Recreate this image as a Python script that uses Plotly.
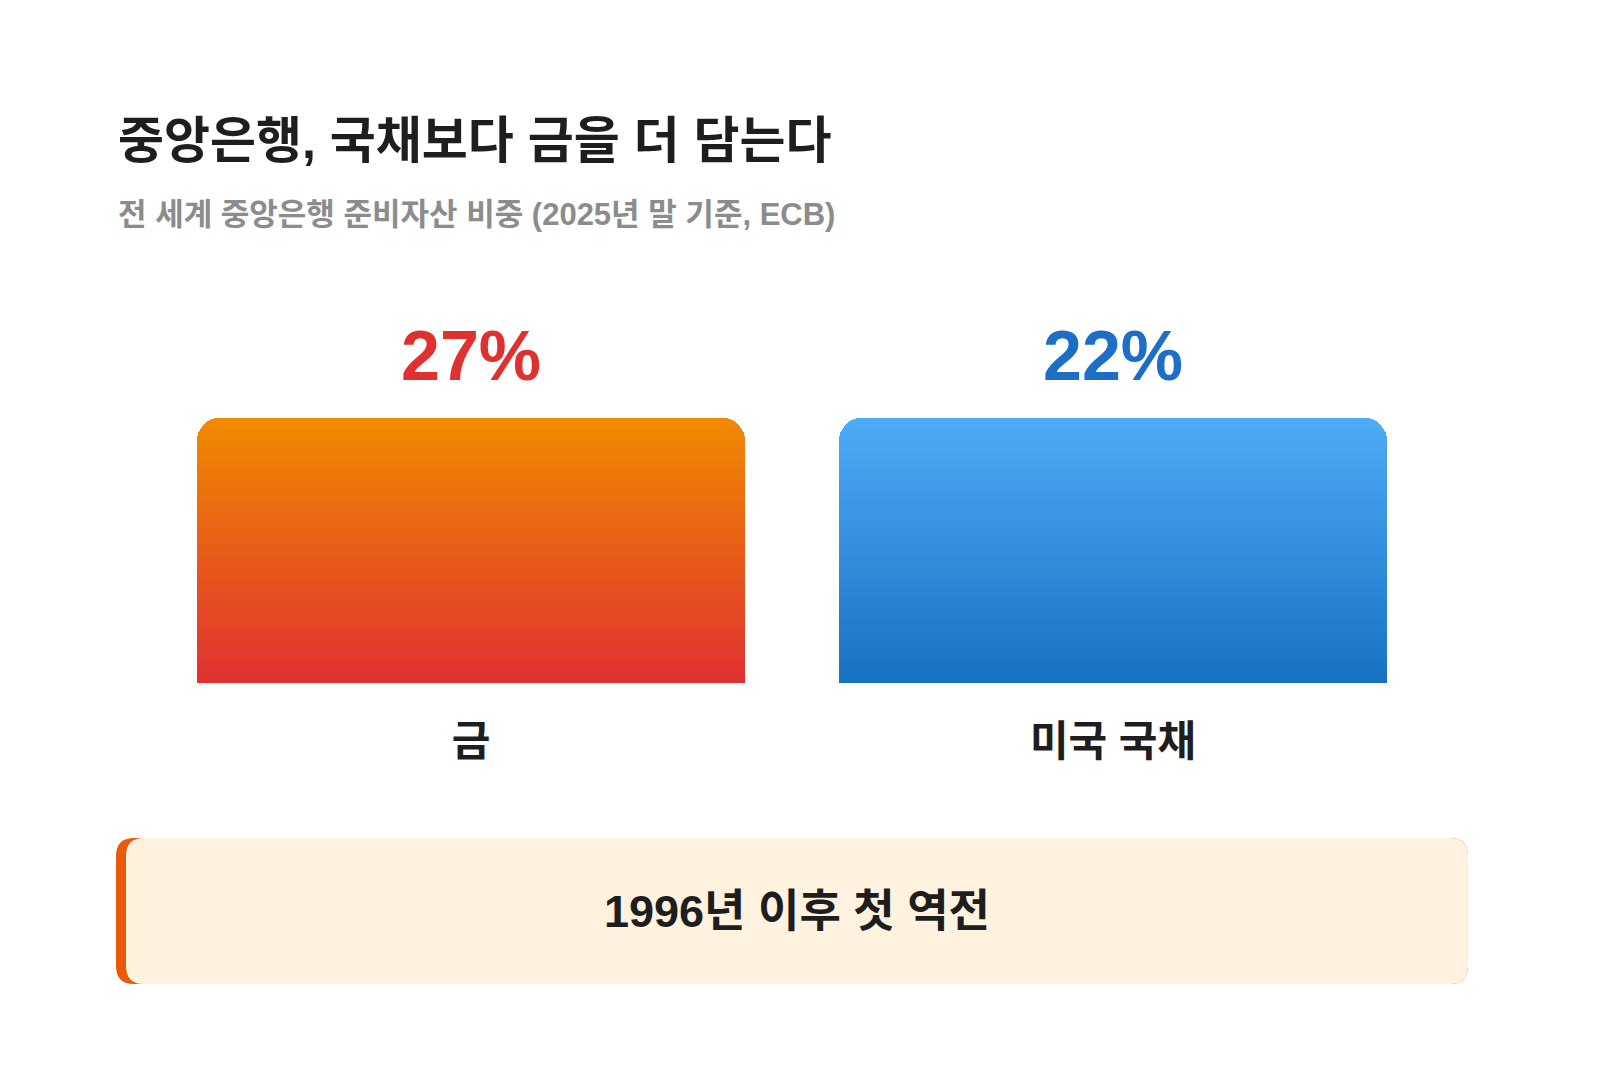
import plotly.graph_objects as go

categories = ["금", "미국 국채"]
shares = [27, 22]
label_colors = ["#e03131", "#1c6fc4"]
grad_top = ["#f08a00", "#4dabf7"]
grad_bot = ["#e03131", "#1971c2"]
title = "중앙은행, 국채보다 금을 더 담는다"
subtitle = "전 세계 중앙은행 준비자산 비중 (2025년 말 기준, ECB)"
callout = "1996년 이후 첫 역전"

W, H = 1600, 1080
FONT = "Liberation Sans, Noto Sans CJK KR, sans-serif"
N = 60

def hx(c):
    return [int(c[i:i+2], 16) for i in (1, 3, 5)]

def mix(a, b, t):
    a, b = hx(a), hx(b)
    return "rgb(%d,%d,%d)" % tuple(round(a[i] + (b[i] - a[i]) * t) for i in range(3))

fig = go.Figure()
for k in range(N):
    t = k / (N - 1)
    fig.add_trace(go.Bar(
        x=categories, y=[1 / N] * len(categories),
        marker=dict(color=[mix(grad_bot[i], grad_top[i], t) for i in range(len(categories))], line=dict(width=0)),
        hoverinfo="skip", showlegend=False))

for i, c in enumerate(categories):
    fig.add_annotation(x=c, y=1, xref="x", yref="y", yshift=62, text=f"<b>{shares[i]}%</b>",
                       showarrow=False, font=dict(size=70, color=label_colors[i], family=FONT))

def px(x): return x / W
def py(y): return 1 - y / H

def rrect(x0, y0, x1, y1, r):
    pts = [("M", x0 + r, y0), ("L", x1 - r, y0), ("Q", x1, y0, x1, y0 + r), ("L", x1, y1 - r),
           ("Q", x1, y1, x1 - r, y1), ("L", x0 + r, y1), ("Q", x0, y1, x0, y1 - r), ("L", x0, y0 + r),
           ("Q", x0, y0, x0 + r, y0)]
    s = ""
    for p in pts:
        vals = p[1:]
        s += p[0] + " " + " ".join(f"{px(vals[j]) if j % 2 == 0 else py(vals[j])}" for j in range(len(vals))) + " "
    return s + "Z"

fig.add_shape(type="path", xref="paper", yref="paper", path=rrect(108, 830, 1460, 976, 18),
              fillcolor="#e8590c", line=dict(width=0), layer="below")
fig.add_shape(type="path", xref="paper", yref="paper", path=rrect(118, 830, 1460, 976, 18),
              fillcolor="#fff3e0", line=dict(width=0), layer="below")

fig.add_annotation(x=px(108), y=py(133), xref="paper", yref="paper", xanchor="left", yanchor="middle",
                   text=f"<b>{title}</b>", showarrow=False, font=dict(size=50, color="#1e1e1e", family=FONT))
fig.add_annotation(x=px(108), y=py(207), xref="paper", yref="paper", xanchor="left", yanchor="middle",
                   text=f"<b>{subtitle}</b>", showarrow=False, font=dict(size=31, color="#8c8c8c", family=FONT))
fig.add_annotation(x=px(789), y=py(903), xref="paper", yref="paper", xanchor="center", yanchor="middle",
                   text=f"<b>{callout}</b>", showarrow=False, font=dict(size=45, color="#1e1e1e", family=FONT))

fig.update_layout(
    width=W, height=H, margin=dict(l=0, r=0, t=0, b=0),
    paper_bgcolor="white", plot_bgcolor="white",
    barmode="stack", bargap=94 / 642, barcornerradius=22,
    xaxis=dict(domain=[142 / W, 1426 / W], showgrid=False, zeroline=False, showline=False,
               tickfont=dict(size=42, color="#1e1e1e", family=FONT), ticks="", ticklabelstandoff=30),
    yaxis=dict(domain=[py(675), py(410)], range=[0, 1], visible=False),
    hovermode=False,
)
fig.update_xaxes(ticktext=[f"<b>{c}</b>" for c in categories], tickvals=categories)
fig.write_html("out.html")
